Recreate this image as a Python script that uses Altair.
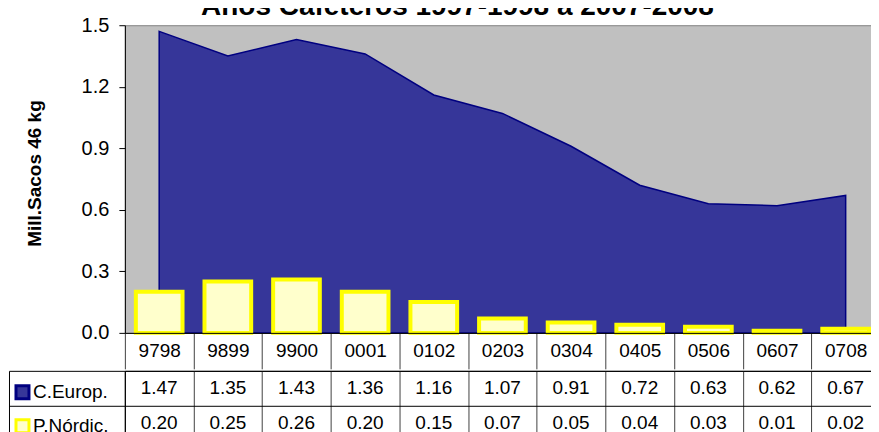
import altair as alt
import pandas as pd

# ---- data ----
cats = ["9798", "9899", "9900", "0001", "0102", "0203", "0304", "0405", "0506", "0607", "0708"]
ceurop = [1.47, 1.35, 1.43, 1.36, 1.16, 1.07, 0.91, 0.72, 0.63, 0.62, 0.67]
pnordic = [0.20, 0.25, 0.26, 0.20, 0.15, 0.07, 0.05, 0.04, 0.03, 0.01, 0.02]
series_names = ["C.Europ.", "P.Nórdic."]
y_ticks = [0.0, 0.3, 0.6, 0.9, 1.2, 1.5]
title_text = "Años Cafeteros 1997-1998 a 2007-2008"
y_title = "Mill.Sacos 46 kg"

long = pd.DataFrame({
    "cat": cats * 2,
    "series": [series_names[0]] * len(cats) + [series_names[1]] * len(cats),
    "value": ceurop + pnordic,
})

FONT = "Liberation Sans"
PLOT_W = 756

x_scale = alt.Scale(domain=cats, paddingInner=0, paddingOuter=0)
fill_scale = alt.Scale(domain=series_names, range=["#363699", "#FFFFCC"])
stroke_scale = alt.Scale(domain=series_names, range=["#000080", "#FFFF00"])

legend = alt.Legend(
    title=None, orient="none", legendX=-112, legendY=358, symbolType="square",
    symbolSize=169, symbolStrokeWidth=3, symbolOpacity=1, labelFontSize=19,
    labelFont=FONT, labelColor="black", rowPadding=9, labelOffset=1, padding=0,
)

base = alt.Chart(long)

area = base.transform_filter(alt.datum.series == series_names[0]).mark_area(
    strokeWidth=1.5, opacity=1
).encode(
    x=alt.X("cat:N", scale=x_scale, axis=alt.Axis(
        title=None, orient="bottom", tickBand="extent", tickSize=36,
        tickColor="#404040", labelAngle=0, labelPadding=-18, labelBaseline="middle",
        labelFontSize=19, labelFont=FONT, labelColor="black", domainColor="black",
        zindex=1)),
    y=alt.Y("value:Q", scale=alt.Scale(domain=[0, 1.5], nice=False), axis=alt.Axis(
        title=y_title, values=y_ticks, format=".1f", tickSize=6, tickColor="black",
        domainColor="black", labelFontSize=20, labelFont=FONT, labelColor="black",
        labelPadding=10, titleFontSize=19, titleFont=FONT, titleFontWeight="bold",
        titleColor="black", titlePadding=37, titleY=148, grid=False, zindex=1)),
    fill=alt.Fill("series:N", scale=fill_scale, legend=legend),
    stroke=alt.Stroke("series:N", scale=stroke_scale, legend=legend),
)

bars = base.transform_filter(alt.datum.series == series_names[1]).mark_bar(
    width=alt.RelativeBandSize(0.68), strokeWidth=4
).encode(
    x=alt.X("cat:N"),
    y=alt.Y("value:Q"),
    fill=alt.Fill("series:N"),
    stroke=alt.Stroke("series:N"),
)

main = alt.layer(area, bars).properties(
    width=PLOT_W, height=308,
    title=alt.Title(title_text, fontSize=28, fontWeight="bold", font=FONT,
                    anchor="middle", offset=-6, dx=-45, color="black"),
    view=alt.ViewBackground(fill="#C0C0C0", stroke="#808080"),
)

row_scale = alt.Scale(domain=series_names, paddingInner=0, paddingOuter=0)

table_text = alt.Chart(long).mark_text(fontSize=19, font=FONT, color="black").encode(
    x=alt.X("cat:N", scale=x_scale, axis=alt.Axis(
        title=None, labels=False, ticks=False, domain=False, grid=True,
        tickBand="extent", gridColor="#404040", gridOpacity=1)),
    y=alt.Y("series:N", scale=row_scale, axis=alt.Axis(
        title=None, orient="left", labels=False, ticks=True, tickBand="extent",
        tickSize=116, tickColor="black", domain=True, domainColor="black",
        grid=True, gridColor="black", gridOpacity=1)),
    text=alt.Text("value:Q", format=".2f"),
)

border = alt.Chart(long).mark_text(opacity=0).encode(
    y=alt.Y("series:N", scale=row_scale, axis=alt.Axis(
        title=None, orient="left", labels=False, ticks=False, grid=False,
        domain=True, domainColor="black", offset=116)),
)

table = alt.layer(table_text, border).resolve_axis(y="independent").properties(
    width=PLOT_W, height=70,
    view=alt.ViewBackground(fill="white", stroke="black"),
)

chart = alt.vconcat(main, table, spacing=0).properties(
    padding={"left": 0, "top": -16, "right": -10, "bottom": 0},
    background="white",
).configure(font=FONT)

chart.save("out.html", embed_options={"renderer": "svg", "actions": False})
